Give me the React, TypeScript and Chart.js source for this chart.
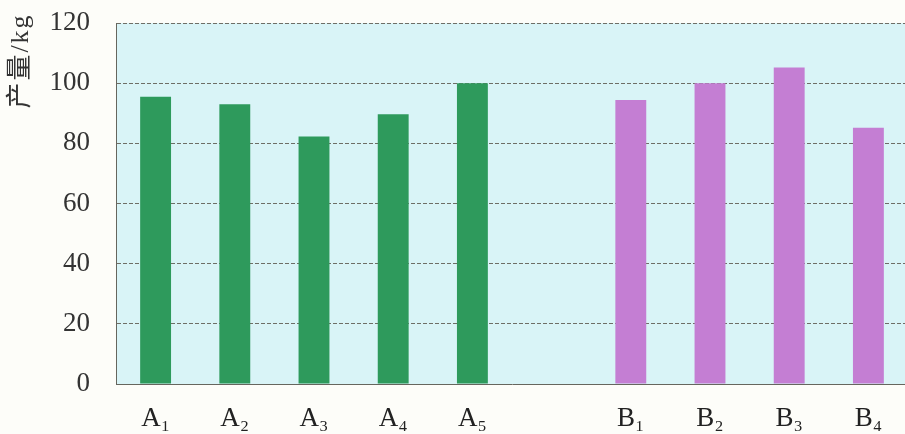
import React, { useEffect, useRef } from "react";
import { Chart, registerables } from "chart.js";

Chart.register(...registerables);

const categoriesA = ["A₁", "A₂", "A₃", "A₄", "A₅"];
const valuesA = [95.5, 93, 82.3, 89.7, 100];
const categoriesB = ["B₁", "B₂", "B₃", "B₄"];
const valuesB = [94.4, 100, 105.2, 85.2];
const yTicks = [0, 20, 40, 60, 80, 100, 120];
const yTitle = "产量/kg";

const GREEN = "#2e9a5c";
const PURPLE = "#c47ed3";

export default function App() {
  const ref = useRef<HTMLCanvasElement | null>(null);

  useEffect(() => {
    if (!ref.current) return;
    const labels = [...categoriesA, "", ...categoriesB];
    const data = [...valuesA, null, ...valuesB];
    const colors = [
      ...categoriesA.map(() => GREEN),
      "rgba(0,0,0,0)",
      ...categoriesB.map(() => PURPLE),
    ];

    const bgPlugin = {
      id: "plotBg",
      beforeDraw(chart: any) {
        const { ctx, chartArea } = chart;
        ctx.save();
        ctx.fillStyle = "#fdfdf9";
        ctx.fillRect(0, 0, chart.width, chart.height);
        ctx.fillStyle = "#d9f4f7";
        ctx.fillRect(
          chartArea.left,
          chartArea.top,
          chartArea.right - chartArea.left,
          chartArea.bottom - chartArea.top
        );
        ctx.restore();
      },
      afterDraw(chart: any) {
        const { ctx } = chart;
        ctx.save();
        ctx.translate(21, 61);
        ctx.rotate(-Math.PI / 2);
        ctx.fillStyle = "#333";
        ctx.font = '26px "Liberation Serif", "Noto Sans CJK SC"';
        (ctx as any).letterSpacing = "2px";
        ctx.textAlign = "center";
        ctx.textBaseline = "middle";
        ctx.fillText(yTitle, 0, 0);
        ctx.restore();
      },
    };

    const chart = new Chart(ref.current, {
      type: "bar",
      data: {
        labels,
        datasets: [
          {
            data: data as any,
            backgroundColor: colors,
            barPercentage: 0.39,
            categoryPercentage: 1,
          },
        ],
      },
      options: {
        responsive: false,
        animation: false,
        layout: { padding: { top: 23, left: 0, right: 0, bottom: 0 } },
        plugins: { legend: { display: false }, tooltip: { enabled: false } },
        scales: {
          x: {
            grid: { display: false, drawTicks: false },
            border: { display: true, color: "#66665e", width: 1 },
            ticks: {
              color: "#222",
              padding: 19,
              font: { family: '"Liberation Serif", serif', size: 27 },
            },
            afterFit(scale: any) {
              scale.height = 50;
              scale.paddingLeft = 0;
              scale.paddingRight = 0;
            },
          },
          y: {
            min: 0,
            max: 120,
            afterBuildTicks(scale: any) {
              scale.ticks = yTicks.map((v) => ({ value: v }));
            },
            grid: {
              color: "#6e6e66",
              lineWidth: 1,
              drawTicks: false,
            },
            border: { display: true, color: "#66665e", width: 1, dash: [4, 2] },
            ticks: {
              color: "#333",
              padding: 26,
              font: { family: '"Liberation Serif", serif', size: 27 },
            },
            afterFit(scale: any) {
              scale.width = 116;
              scale.paddingTop = 0;
              scale.paddingBottom = 0;
            },
          },
        },
      },
      plugins: [bgPlugin],
    });
    return () => chart.destroy();
  }, []);

  return (
    <div
      style={{
        position: "fixed",
        left: 0,
        top: 0,
        width: 905,
        height: 434,
        overflow: "hidden",
        background: "#fdfdf9",
      }}
    >
      <canvas ref={ref} width={908} height={434} style={{ display: "block" }} />
    </div>
  );
}
